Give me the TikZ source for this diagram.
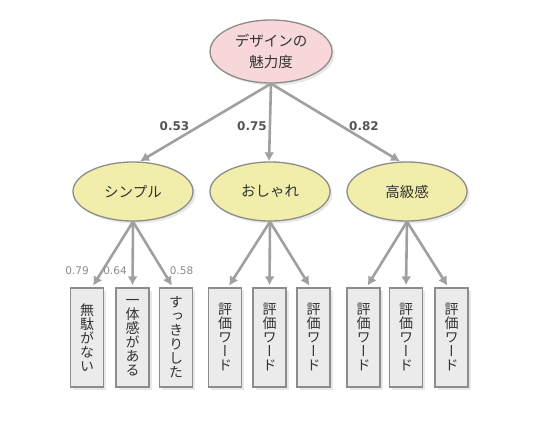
\documentclass[tikz,border=0pt]{standalone}
\usepackage{fontspec}
\setmainfont{DejaVu Sans}
\newfontfamily\jp{Noto Sans CJK JP}
\newfontfamily\jpv[RawFeature=+vert]{Noto Sans CJK JP}
\usetikzlibrary{arrows.meta,shadows,shapes.geometric}
\definecolor{edgec}{HTML}{8C8C8C}
\definecolor{arrc}{HTML}{A0A0A0}
\definecolor{pinkf}{HTML}{F7D7DA}
\definecolor{yelf}{HTML}{F0EEAA}
\definecolor{boxf}{HTML}{EBEBEB}
\definecolor{txtc}{HTML}{333333}
\definecolor{coefc}{HTML}{555555}
\definecolor{loadc}{HTML}{8A8A8A}
\tikzset{
  shad/.style={drop shadow={shadow xshift=2.5pt,shadow yshift=-2.5pt,fill=black!18}},
  ellbase/.style={ellipse, draw=edgec, line width=1.3pt, inner sep=0pt, align=center, text=txtc, shad},
  topnode/.style={ellbase, fill=pinkf, minimum width=122pt, minimum height=63pt,
    font=\jp\fontsize{14.5}{21.5}\selectfont},
  midnode/.style={ellbase, fill=yelf, minimum width=120pt, minimum height=59pt,
    font=\jp\fontsize{14.5}{16}\selectfont},
  wordbox/.style={rectangle, draw=edgec, line width=1.3pt, fill=boxf, minimum width=33pt,
    minimum height=99pt, inner sep=0pt, align=center, text=txtc, shad,
    font=\jpv\fontsize{14}{14}\selectfont},
  arr/.style={draw=arrc, line width=2.6pt, -{Latex[length=9pt,width=10pt]}},
  coef/.style={font=\bfseries\fontsize{12}{14}\selectfont, text=coefc, inner sep=0pt},
  loadlab/.style={font=\fontsize{10.5}{12}\selectfont, text=loadc, inner sep=0pt},
}
\begin{document}
\begin{tikzpicture}[x=1pt,y=-1pt]
\useasboundingbox (0,0) rectangle (540,420);
\node[topnode] (top) at (271,51.5) {デザインの\\魅力度};
\node[midnode] (simple) at (133,191.5) {シンプル};
\node[midnode] (share) at (270,191.5) {おしゃれ};
\node[midnode] (koukyu) at (407,191.5) {高級感};

\node[wordbox] (b1) at (87,337.5) {無\\駄\\が\\な\\い};
\node[wordbox] (b2) at (132.5,337.5) {一\\体\\感\\が\\あ\\る};
\node[wordbox] (b3) at (176,337.5) {す\\っ\\き\\り\\し\\た};
\node[wordbox] (b4) at (225,337.5) {評\\価\\ワ\\ー\\ド};
\node[wordbox] (b5) at (269.5,337.5) {評\\価\\ワ\\ー\\ド};
\node[wordbox] (b6) at (313.5,337.5) {評\\価\\ワ\\ー\\ド};
\node[wordbox] (b7) at (363.5,337.5) {評\\価\\ワ\\ー\\ド};
\node[wordbox] (b8) at (406,337.5) {評\\価\\ワ\\ー\\ド};
\node[wordbox] (b9) at (451.5,337.5) {評\\価\\ワ\\ー\\ド};

\draw[arr] (top.south) -- ([xshift=7pt]simple.north);
\draw[arr] (top.south) -- ([xshift=-1pt]share.north);
\draw[arr] (top.south) -- ([xshift=-7pt]koukyu.north);

\draw[arr,shorten >=2pt] (simple.south) -- ([xshift=5pt]b1.north);
\draw[arr,shorten >=2pt] (simple.south) -- (b2.north);
\draw[arr,shorten >=2pt] (simple.south) -- ([xshift=-3pt]b3.north);
\draw[arr,shorten >=2pt] (share.south) -- ([xshift=3pt]b4.north);
\draw[arr,shorten >=2pt] (share.south) -- (b5.north);
\draw[arr,shorten >=2pt] (share.south) -- ([xshift=-3pt]b6.north);
\draw[arr,shorten >=2pt] (koukyu.south) -- ([xshift=3pt]b7.north);
\draw[arr,shorten >=2pt] (koukyu.south) -- (b8.north);
\draw[arr,shorten >=2pt] (koukyu.south) -- ([xshift=-3pt]b9.north);

\node[coef] (c1) at (174.5,126) {0.53};
\node[coef] (c2) at (252,126) {0.75};
\node[coef] (c3) at (364,126) {0.82};
\node[loadlab] (l1) at (77,271) {0.79};
\node[loadlab] (l2) at (115,271) {0.64};
\node[loadlab] (l3) at (181.5,271) {0.58};
\end{tikzpicture}
\end{document}
